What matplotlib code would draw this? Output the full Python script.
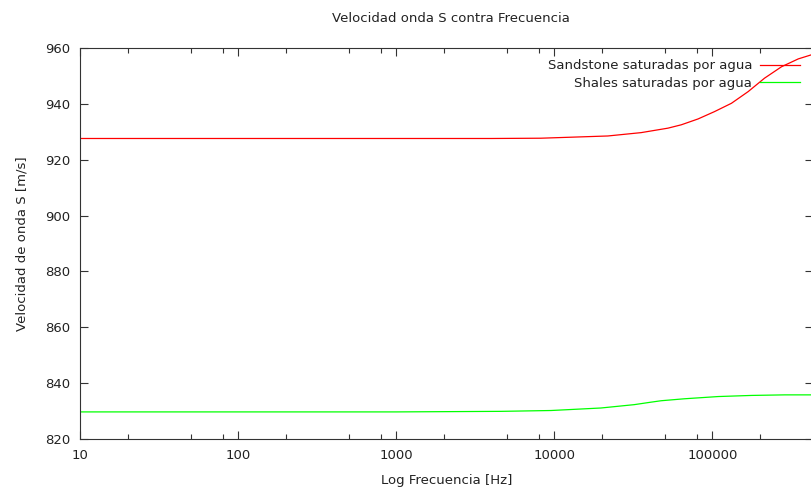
import matplotlib
matplotlib.use("Agg")
import matplotlib.pyplot as plt
from matplotlib.ticker import FixedLocator, NullFormatter, NullLocator

# valores
freq_sand = [10, 1000, 4000, 8210, 21800, 35400, 52300, 63500, 81100, 102800,
             131800, 168300, 213500, 273600, 349000, 430000]
vel_sand = [927.6, 927.6, 927.6, 927.7, 928.5, 929.7, 931.3, 932.5, 934.6, 937.2,
            940.2, 944.4, 949.2, 953.3, 956.1, 957.7]

freq_shale = [10, 1000, 4590, 9530, 19700, 32000, 41000, 47400, 66400, 108600,
              176700, 286000, 430000]
vel_shale = [829.7, 829.7, 829.9, 830.2, 831.1, 832.3, 833.2, 833.7, 834.4, 835.2,
             835.6, 835.8, 835.8]

label_sand = "Sandstone saturadas por agua"
label_shale = "Shales saturadas por agua"

x_major = [10, 100, 1000, 10000, 100000]
y_major = [820, 840, 860, 880, 900, 920, 940, 960]

txt = "#222222"
plt.rcParams["font.family"] = "DejaVu Sans"
plt.rcParams["font.size"] = 9.5

fig = plt.figure(figsize=(8.11, 4.94), dpi=100)
ax = fig.add_axes([80 / 811, 1 - 439 / 494, 1 - 80 / 811 + 0.002, (439 - 48) / 494])

ax.plot(freq_sand, vel_sand, color="#ff0000", lw=0.9, label=label_sand)
ax.plot(freq_shale, vel_shale, color="#00ff00", lw=0.9, label=label_shale)

ax.set_xscale("log")
ax.set_xlim(10, 430000)
ax.set_ylim(820, 960)

ax.xaxis.set_major_locator(FixedLocator(x_major))
ax.set_xticklabels([str(v) for v in x_major])
minors = [d * m for d in x_major + [1000000] for m in (2, 5, 8)]
ax.xaxis.set_minor_locator(FixedLocator(minors))
ax.xaxis.set_minor_formatter(NullFormatter())
ax.yaxis.set_major_locator(FixedLocator(y_major))
ax.yaxis.set_minor_locator(NullLocator())

ax.tick_params(which="major", direction="in", length=6, width=0.8, top=True, right=True,
               colors="#333333", labelcolor=txt, pad=7)
ax.tick_params(which="minor", direction="in", length=3.5, width=0.8, top=True, right=True,
               colors="#333333")
for s in ax.spines.values():
    s.set_color("#333333")
    s.set_linewidth(0.8)

ax.set_xlabel("Log Frecuencia [Hz]", color=txt, labelpad=9)
ax.set_ylabel("Velocidad de onda S [m/s]", color=txt, labelpad=12)
fig.text(451 / 811, 1 - 19 / 494, "Velocidad onda S contra Frecuencia", ha="center",
         va="center", color=txt)

leg = ax.legend(loc="upper right", frameon=False, markerfirst=False, handlelength=3.0,
                handletextpad=0.6, labelspacing=0.35, borderaxespad=0.3,
                bbox_to_anchor=(0.995, 0.995))
for t in leg.get_texts():
    t.set_color(txt)

fig.savefig("out.png", dpi=100)
